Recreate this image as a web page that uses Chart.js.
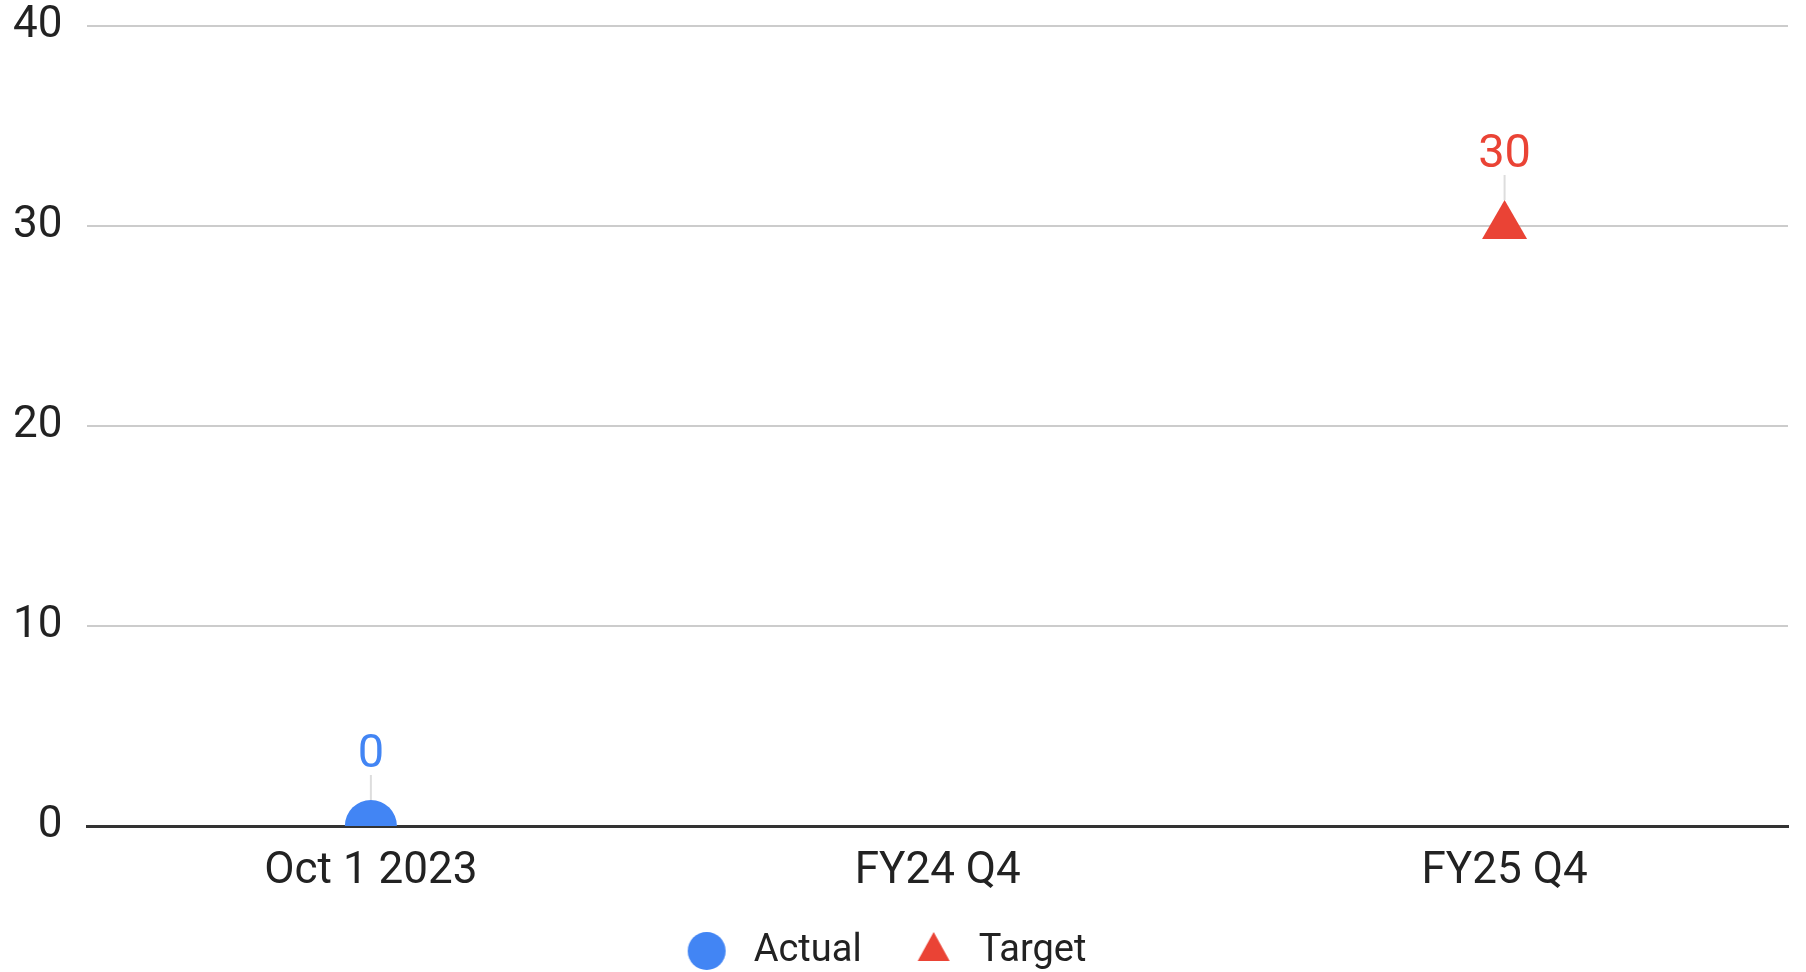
<!DOCTYPE html>
<html>
<head>
<meta charset="utf-8">
<script src="https://cdn.jsdelivr.net/npm/chart.js@4"></script>
<style>
html,body{margin:0;padding:0;background:#fff}
#wrap{width:1806px;height:972px}
</style>
</head>
<body>
<div id="wrap"><canvas id="chart"></canvas></div>
<script>
let categories=["Oct 1 2023","FY24 Q4","FY25 Q4"]
let actual=[0,null,null]
let target=[null,null,30]
let yTicks=[0,10,20,30,40]

let blue="#4285F4"
let red="#EA4335"

// legend icons, drawn left of the box centre so the text sits further away
function legendIcon(kind,color){
let c=document.createElement("canvas")
c.width=80
c.height=40
let g=c.getContext("2d")
g.fillStyle=color
g.beginPath()
if(kind=="circle"){
g.arc(22,20,19,0,Math.PI*2)
}else{
g.moveTo(24,1)
g.lineTo(40,30)
g.lineTo(8,30)
g.closePath()
}
g.fill()
return c
}
let icons=[legendIcon("circle",blue),legendIcon("triangle",red)]

// draws the value above each point with a short grey leader line
let valueLabels={
id:"valueLabels",
afterDatasetsDraw(chart){
let ctx=chart.ctx
chart.data.datasets.forEach((ds,i)=>{
let meta=chart.getDatasetMeta(i)
meta.data.forEach((pt,j)=>{
let v=ds.data[j]
if(v===null||v===undefined)return
ctx.save()
ctx.strokeStyle="#dddddd"
ctx.lineWidth=2
ctx.beginPath()
ctx.moveTo(pt.x,pt.y-ds.pointRadius)
ctx.lineTo(pt.x,pt.y-51)
ctx.stroke()
ctx.fillStyle=ds.borderColor
ctx.font="47px Roboto"
ctx.textAlign="center"
ctx.textBaseline="middle"
ctx.fillText(String(v),pt.x,pt.y-71)
ctx.restore()
})
})
}
}

// the legend keeps wide gaps between items but sits closer to the axis
let legendShift={
id:"legendShift",
afterLayout(chart){
chart.legend.top-=45
chart.legend.bottom-=45
}
}

new Chart(document.getElementById("chart"),{
type:"line",
data:{
labels:categories,
datasets:[{
label:"Actual",
data:actual,
showLine:false,
pointStyle:"circle",
pointRadius:26,
pointHoverRadius:26,
backgroundColor:blue,
borderColor:blue,
borderWidth:0,
clip:0
},{
label:"Target",
data:target,
showLine:false,
pointStyle:"triangle",
pointRadius:26,
pointHoverRadius:26,
backgroundColor:red,
borderColor:red,
borderWidth:0,
clip:0
}]
},
options:{
responsive:true,
maintainAspectRatio:false,
animation:false,
layout:{autoPadding:false,padding:{left:13,right:18,top:0,bottom:-53}},
plugins:{
tooltip:{enabled:false},
legend:{
position:"bottom",
labels:{
usePointStyle:true,
pointStyleWidth:20,
boxHeight:27,
padding:78,
color:"#222",
font:{family:"Roboto",size:38},
generateLabels(chart){
let items=Chart.defaults.plugins.legend.labels.generateLabels(chart)
items.forEach((it,i)=>{it.pointStyle=icons[i]})
return items
}
}
}
},
scales:{
x:{
z:1,
offset:true,
grid:{display:false,drawTicks:false},
border:{display:true,color:"#333",width:3},
ticks:{color:"#222",padding:20,font:{family:"Roboto",size:44}},
afterFit(axis){axis.height=73}
},
y:{
min:yTicks[0],
max:yTicks[yTicks.length-1],
border:{display:false},
grid:{color:"#cccccc",lineWidth:2,drawTicks:false},
afterBuildTicks(axis){axis.ticks=yTicks.map(v=>({value:v}))},
afterFit(axis){
axis.width-=25
axis.paddingTop=26
},
ticks:{color:"#222",padding:25,font:{family:"Roboto",size:44}}
}
}
},
plugins:[valueLabels,legendShift]
})
</script>
</body>
</html>
